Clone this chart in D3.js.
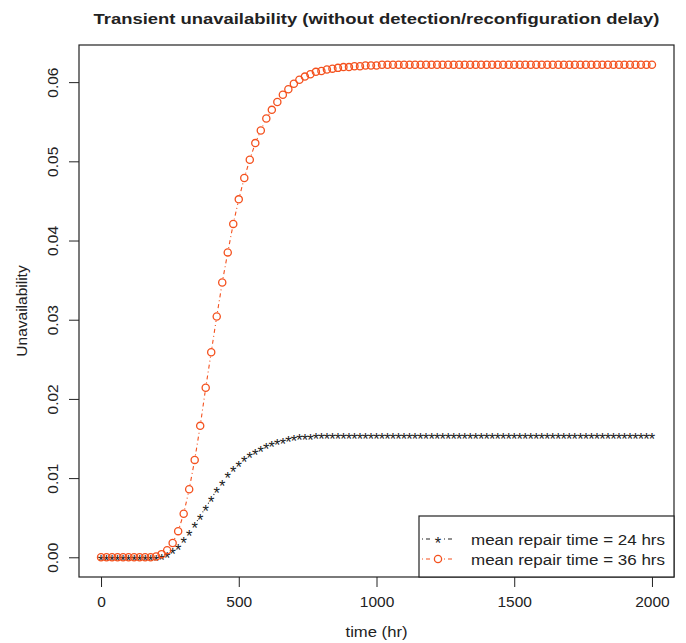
<!DOCTYPE html>
<html>
<head>
<meta charset="utf-8">
<script src="https://cdn.jsdelivr.net/npm/d3@7"></script>
<style>
  body { margin: 0; background: #fff; }
  text { font-family: "Liberation Sans", Arial, sans-serif; fill: #222; }
</style>
</head>
<body>
<div id="chart"></div>
<script>
// time grid (hr)
const times = [0, 20, 40, 60, 80, 100, 120, 140, 160, 180,
  200, 220, 240, 260, 280, 300, 320, 340, 360, 380,
  400, 420, 440, 460, 480, 500, 520, 540, 560, 580,
  600, 620, 640, 660, 680, 700, 720, 740, 760, 780,
  800, 820, 840, 860, 880, 900, 920, 940, 960, 980,
  1000, 1020, 1040, 1060, 1080, 1100, 1120, 1140, 1160, 1180,
  1200, 1220, 1240, 1260, 1280, 1300, 1320, 1340, 1360, 1380,
  1400, 1420, 1440, 1460, 1480, 1500, 1520, 1540, 1560, 1580,
  1600, 1620, 1640, 1660, 1680, 1700, 1720, 1740, 1760, 1780,
  1800, 1820, 1840, 1860, 1880, 1900, 1920, 1940, 1960, 1980, 2000];

// mean repair time = 24 hrs
const repair24 = [0, 0, 0, 0, 0, 0, 0, 0, 0, 0,
  0, 0.0001, 0.0004, 0.0008, 0.0014, 0.0022, 0.0031, 0.0041, 0.0052, 0.0063,
  0.0074, 0.0085, 0.0095, 0.0104, 0.0112, 0.0119, 0.0125, 0.0130, 0.0134, 0.0138,
  0.0141, 0.0144, 0.0146, 0.0148, 0.0150, 0.0151, 0.0152, 0.01525, 0.0153, 0.01532,
  0.01535, 0.01536, 0.01537, 0.01538, 0.01539, 0.0154, 0.0154, 0.0154, 0.0154, 0.0154,
  0.0154, 0.01543, 0.01543, 0.01543, 0.01543, 0.01543, 0.01543, 0.01543, 0.01543, 0.01543,
  0.01543, 0.01543, 0.01543, 0.01543, 0.01543, 0.01543, 0.01543, 0.01543, 0.01543, 0.01543,
  0.01543, 0.01543, 0.01543, 0.01543, 0.01543, 0.01543, 0.01543, 0.01543, 0.01543, 0.01543,
  0.01543, 0.01543, 0.01543, 0.01543, 0.01543, 0.01543, 0.01543, 0.01543, 0.01543, 0.01543,
  0.01543, 0.01543, 0.01543, 0.01543, 0.01543, 0.01543, 0.01543, 0.01543, 0.01543, 0.01543, 0.01543];

// mean repair time = 36 hrs
const repair36 = [0, 0, 0, 0, 0, 0, 0, 0, 0, 0,
  0.0001, 0.0004, 0.0009, 0.0018, 0.0033, 0.0055, 0.0086, 0.0123, 0.0166, 0.0214,
  0.0259, 0.0304, 0.0347, 0.0385, 0.0421, 0.0452, 0.0479, 0.0502, 0.0523, 0.0539,
  0.0554, 0.0565, 0.0575, 0.0584, 0.0591, 0.0598, 0.0603, 0.0607, 0.0610, 0.0613,
  0.0614, 0.0616, 0.0617, 0.0618, 0.0619, 0.0619, 0.0620, 0.0620, 0.0621, 0.0621,
  0.0621, 0.0622, 0.0622, 0.0622, 0.0622, 0.0622, 0.0622, 0.0622, 0.0622, 0.0622,
  0.0622, 0.0622, 0.0622, 0.0622, 0.0622, 0.0622, 0.0622, 0.0622, 0.0622, 0.0622,
  0.0622, 0.0622, 0.0622, 0.0622, 0.0622, 0.0622, 0.0622, 0.0622, 0.0622, 0.0622,
  0.0622, 0.0622, 0.0622, 0.0622, 0.0622, 0.0622, 0.0622, 0.0622, 0.0622, 0.0622,
  0.0622, 0.0622, 0.0622, 0.0622, 0.0622, 0.0622, 0.0622, 0.0622, 0.0622, 0.0622, 0.0622];

const xTicks = [0, 500, 1000, 1500, 2000];
const yTicks = [0, 0.01, 0.02, 0.03, 0.04, 0.05, 0.06];
const legendLabels = ["mean repair time = 24 hrs", "mean repair time = 36 hrs"];

const width = 686, height = 643;
const margin = {top: 45, right: 12, bottom: 66, left: 79};
const plotW = width - margin.left - margin.right;
const plotH = height - margin.top - margin.bottom;
const fs = 15.5;

const svg = d3.select("#chart").append("svg")
    .attr("width", width)
    .attr("height", height);

const g = svg.append("g")
    .attr("transform", "translate(" + margin.left + "," + margin.top + ")");

// R style 4% padding on each side
const x = d3.scaleLinear()
    .domain([-80, 2080])
    .range([0, plotW]);

const yMax = d3.max(repair36);
const y = d3.scaleLinear()
    .domain([-0.04 * yMax, yMax * 1.04])
    .range([plotH, 0]);

const colors = ["#222222", "#f4511e"];

// x axis
const xAxis = d3.axisBottom(x).tickValues(xTicks).tickSize(10).tickPadding(9)
    .tickFormat(d3.format("d"));
const xg = g.append("g")
    .attr("transform", "translate(0," + plotH + ")")
    .call(xAxis);
xg.select(".domain").remove();
xg.selectAll("line").attr("stroke", "#222");
xg.selectAll("text").attr("font-size", fs).attr("fill", "#222")
    .attr("font-family", "Liberation Sans, Arial, sans-serif");

// y axis (labels parallel to the axis, like R)
const yAxis = d3.axisLeft(y).tickValues(yTicks).tickSize(10).tickFormat(d3.format(".2f"));
const yg = g.append("g").call(yAxis);
yg.select(".domain").remove();
yg.selectAll("line").attr("stroke", "#222");
yg.selectAll("text")
    .attr("font-size", fs).attr("fill", "#222")
    .attr("font-family", "Liberation Sans, Arial, sans-serif")
    .attr("x", null).attr("dy", null)
    .attr("text-anchor", "middle")
    .attr("transform", "translate(-21,0) rotate(-90)");

// plot box
g.append("rect")
    .attr("width", plotW).attr("height", plotH)
    .attr("fill", "none").attr("stroke", "#222").attr("stroke-width", 1.2);

// series
const series = [
  {values: repair24, color: colors[0], shape: "star"},
  {values: repair36, color: colors[1], shape: "circle"}
];

const gap = 4.5;
series.forEach(s => {
  const pts = times.map((t, i) => [x(t), y(s.values[i])]);
  const segs = [];
  for (let i = 0; i < pts.length - 1; i++) {
    const [x0, y0] = pts[i], [x1, y1] = pts[i + 1];
    const len = Math.hypot(x1 - x0, y1 - y0);
    if (len > 2 * gap + 1) {
      const ux = (x1 - x0) / len, uy = (y1 - y0) / len;
      segs.push([x0 + ux * gap, y0 + uy * gap, x1 - ux * gap, y1 - uy * gap]);
    }
  }
  g.append("g").selectAll("line").data(segs).join("line")
      .attr("x1", d => d[0]).attr("y1", d => d[1])
      .attr("x2", d => d[2]).attr("y2", d => d[3])
      .attr("stroke", s.color).attr("stroke-width", 1.1)
      .attr("stroke-dasharray", "1 3 4 3");

  if (s.shape === "circle") {
    g.append("g").selectAll("circle").data(pts).join("circle")
        .attr("cx", d => d[0]).attr("cy", d => d[1]).attr("r", 3.6)
        .attr("fill", "none").attr("stroke", s.color).attr("stroke-width", 1.3);
  } else {
    g.append("g").selectAll("text").data(pts).join("text")
        .attr("x", d => d[0]).attr("y", d => d[1] + 9.5)
        .attr("text-anchor", "middle")
        .attr("font-size", 16.5)
        .style("fill", s.color)
        .text("*");
  }
});

// legend (bottom right, R style)
const lgW = 255, lgH = 61;
const lg = g.append("g")
    .attr("transform", "translate(" + (plotW - lgW) + "," + (plotH - lgH) + ")");
lg.append("rect")
    .attr("width", lgW).attr("height", lgH)
    .attr("fill", "#fff").attr("stroke", "#222").attr("stroke-width", 1.2);

series.forEach((s, i) => {
  const ly = 23 + i * 20;
  lg.append("line")
      .attr("x1", 3).attr("x2", 35).attr("y1", ly).attr("y2", ly)
      .attr("stroke", s.color).attr("stroke-width", 1.1)
      .attr("stroke-dasharray", "1 3 4 3");
  lg.append("rect").attr("x", 14).attr("y", ly - 4).attr("width", 10).attr("height", 8).attr("fill", "#fff");
  if (s.shape === "circle") {
    lg.append("circle").attr("cx", 19).attr("cy", ly).attr("r", 3.6)
        .attr("fill", "none").attr("stroke", s.color).attr("stroke-width", 1.3);
  } else {
    lg.append("text").attr("x", 19).attr("y", ly + 9.5).attr("text-anchor", "middle")
        .attr("font-size", 16.5).style("fill", s.color).text("*");
  }
  lg.append("text")
      .attr("x", 52).attr("y", ly + 5.5)
      .attr("font-size", fs)
      .attr("textLength", 194).attr("lengthAdjust", "spacingAndGlyphs")
      .text(legendLabels[i]);
});

// axis titles and main title
svg.append("text")
    .attr("x", margin.left + plotW / 2).attr("y", 637)
    .attr("text-anchor", "middle").attr("font-size", fs)
    .attr("textLength", 62).attr("lengthAdjust", "spacingAndGlyphs")
    .text("time (hr)");

svg.append("text")
    .attr("transform", "translate(27," + (margin.top + plotH / 2) + ") rotate(-90)")
    .attr("text-anchor", "middle").attr("font-size", fs)
    .text("Unavailability");

svg.append("text")
    .attr("x", margin.left + plotW / 2).attr("y", 24)
    .attr("text-anchor", "middle").attr("font-size", 15.5)
    .attr("font-weight", "bold")
    .attr("textLength", 566).attr("lengthAdjust", "spacingAndGlyphs")
    .text("Transient unavailability (without detection/reconfiguration delay)");
</script>
</body>
</html>
